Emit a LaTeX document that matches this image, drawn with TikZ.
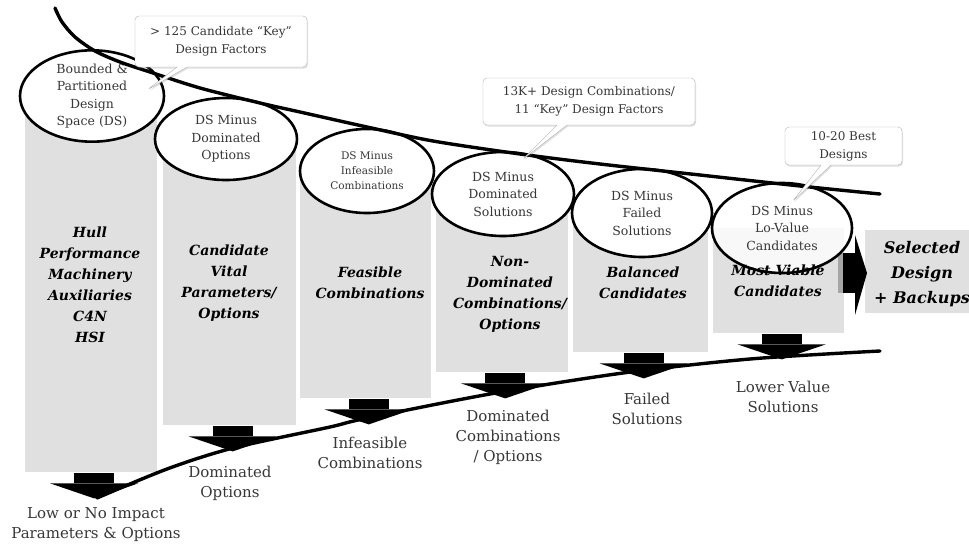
\documentclass[tikz,border=0pt]{standalone}
\usepackage{fontspec}
\setmainfont{DejaVu Serif}
\usetikzlibrary{shapes.geometric,shapes.callouts,shadows}
\definecolor{boxgray}{RGB}{224,224,224}
\definecolor{txtgray}{RGB}{55,55,55}

\begin{document}
\begin{tikzpicture}[x=1pt, y=-1pt, line cap=round, line join=round]
	\tikzset{colbox/.style={fill=boxgray, inner sep=0pt, anchor=north west},
		bubble/.style={ellipse, draw, line width=2.6pt, fill=white, inner sep=0pt, align=center, text=txtgray, font=\fontsize{12.5}{17.5}\selectfont},
		boxtext/.style={align=center, font=\fontsize{14}{21}\selectfont\bfseries\itshape},
		outcome/.style={align=center, text=txtgray, font=\fontsize{15}{20}\selectfont},
		note/.style={rectangle callout, rounded corners=4pt, draw=gray!60, fill=white, align=center, text=txtgray, callout pointer width=10pt,
			font=\fontsize{12}{18}\selectfont, drop shadow={shadow xshift=1pt, shadow yshift=-1.5pt, opacity=.25}},
		curve/.style={line width=3.4pt}}
	\useasboundingbox (0,0) rectangle (969,546);
	% grey columns
	\foreach \n/\l/\r/\t/\b in {1/25/157/96/472, 2/163/296/139/425, 3/300/431/171/398, 4/436/568/194/372, 5/573/708/213/352, 6/713/844/228/333}
		\node[colbox, minimum width={\r-\l}, minimum height={\b-\t}] (c\n) at (\l,\t) {};
	\node[fill=boxgray, minimum width=115, minimum height=83, inner sep=0pt, anchor=north west] (sel) at (865,230) {};
	% arrows down out of each column
	\foreach \n in {1,...,6} {
		\fill ([xshift=-17pt,yshift=-1pt]c\n.south) rectangle ++(40,10);
		\fill ([xshift=-41pt,yshift=-11pt]c\n.south) -- ++(88,0) -- ++(-44,15) -- cycle;
	}
	\fill[gray!70] (838,253) rectangle (844,293);
	\fill (843,253) rectangle (857,293);
	\fill (855,235) -- (867,273) -- (855,315) -- cycle;
	% lower curve
	\draw[curve] plot[smooth] coordinates {(97,498) (167,469) (233,448) (330,427) (363,419) (490,394) (623,373) (750,359) (880,351)};
	% design space at each step
	\node[bubble, minimum width=144, minimum height=86] (e1) at (92,96) {Bounded \&\\Partitioned\\Design\\Space (DS)};
	\node[bubble, minimum width=142, minimum height=82] (e2) at (226,139) {DS Minus\\Dominated\\Options};
	\node[bubble, minimum width=134, minimum height=84, font=\fontsize{10.5}{15}\selectfont] (e3) at (367,171) {DS Minus\\Infeasible\\Combinations};
	\node[bubble, minimum width=142, minimum height=84] (e4) at (503,194) {DS Minus\\Dominated\\Solutions};
	\node[bubble, minimum width=140, minimum height=88] (e5) at (642,213) {DS Minus\\Failed\\Solutions};
	\node[bubble, minimum width=140, minimum height=90, fill opacity=.8, text opacity=1] (e6) at (782,228) {DS Minus\\Lo-Value\\Candidates};
	% upper curve
	\draw[curve] plot[smooth] coordinates {(55,8) (62,22) (75,37) (95,51) (120,62) (150,72) (200,88) (260,103) (300,112) (367,127) (433,141) (520,154) (600,164) (700,175) (800,186) (880,194)};
	% what is kept
	\node[boxtext] (t1) at (90,285) {Hull\\Performance\\Machinery\\Auxiliaries\\C4N\\HSI};
	\node[boxtext] (t2) at (229,283) {Candidate\\Vital\\Parameters/\\Options};
	\node[boxtext] (t3) at (370,283) {Feasible\\Combinations};
	\node[boxtext] (t4) at (510,294) {Non-\\Dominated\\Combinations/\\Options};
	\node[boxtext] (t5) at (643,283) {Balanced\\Candidates};
	\node[boxtext] (t6) at (778,281) {Most Viable\\Candidates};
	\node[boxtext, font=\fontsize{16}{25}\selectfont\bfseries\itshape] (t7) at (922,274) {Selected\\Design\\+ Backups};
	% callouts
	\node[note, minimum width=172, minimum height=51, callout absolute pointer={(147,90)}] (n1) at (221,41.5) {> 125 Candidate “Key”\\Design Factors};
	\node[note, minimum width=212, minimum height=47, callout absolute pointer={(522,160)}] (n2) at (589,101.5) {13K+ Design Combinations/\\11 “Key” Design Factors};
	\node[note, minimum width=117, minimum height=38, callout absolute pointer={(792,202)}] (n3) at (843.5,146) {10-20 Best\\Designs};
	% what is removed
	\node[outcome] (r1) at (96,525) {Low or No Impact\\Parameters \& Options};
	\node[outcome] (r2) at (230,483) {Dominated\\Options};
	\node[outcome] (r3) at (370,453) {Infeasible\\Combinations};
	\node[outcome] (r4) at (508,437) {Dominated\\Combinations\\/ Options};
	\node[outcome] (r5) at (647,409) {Failed\\Solutions};
	\node[outcome] (r6) at (783,397) {Lower Value\\Solutions};
\end{tikzpicture}
\end{document}
